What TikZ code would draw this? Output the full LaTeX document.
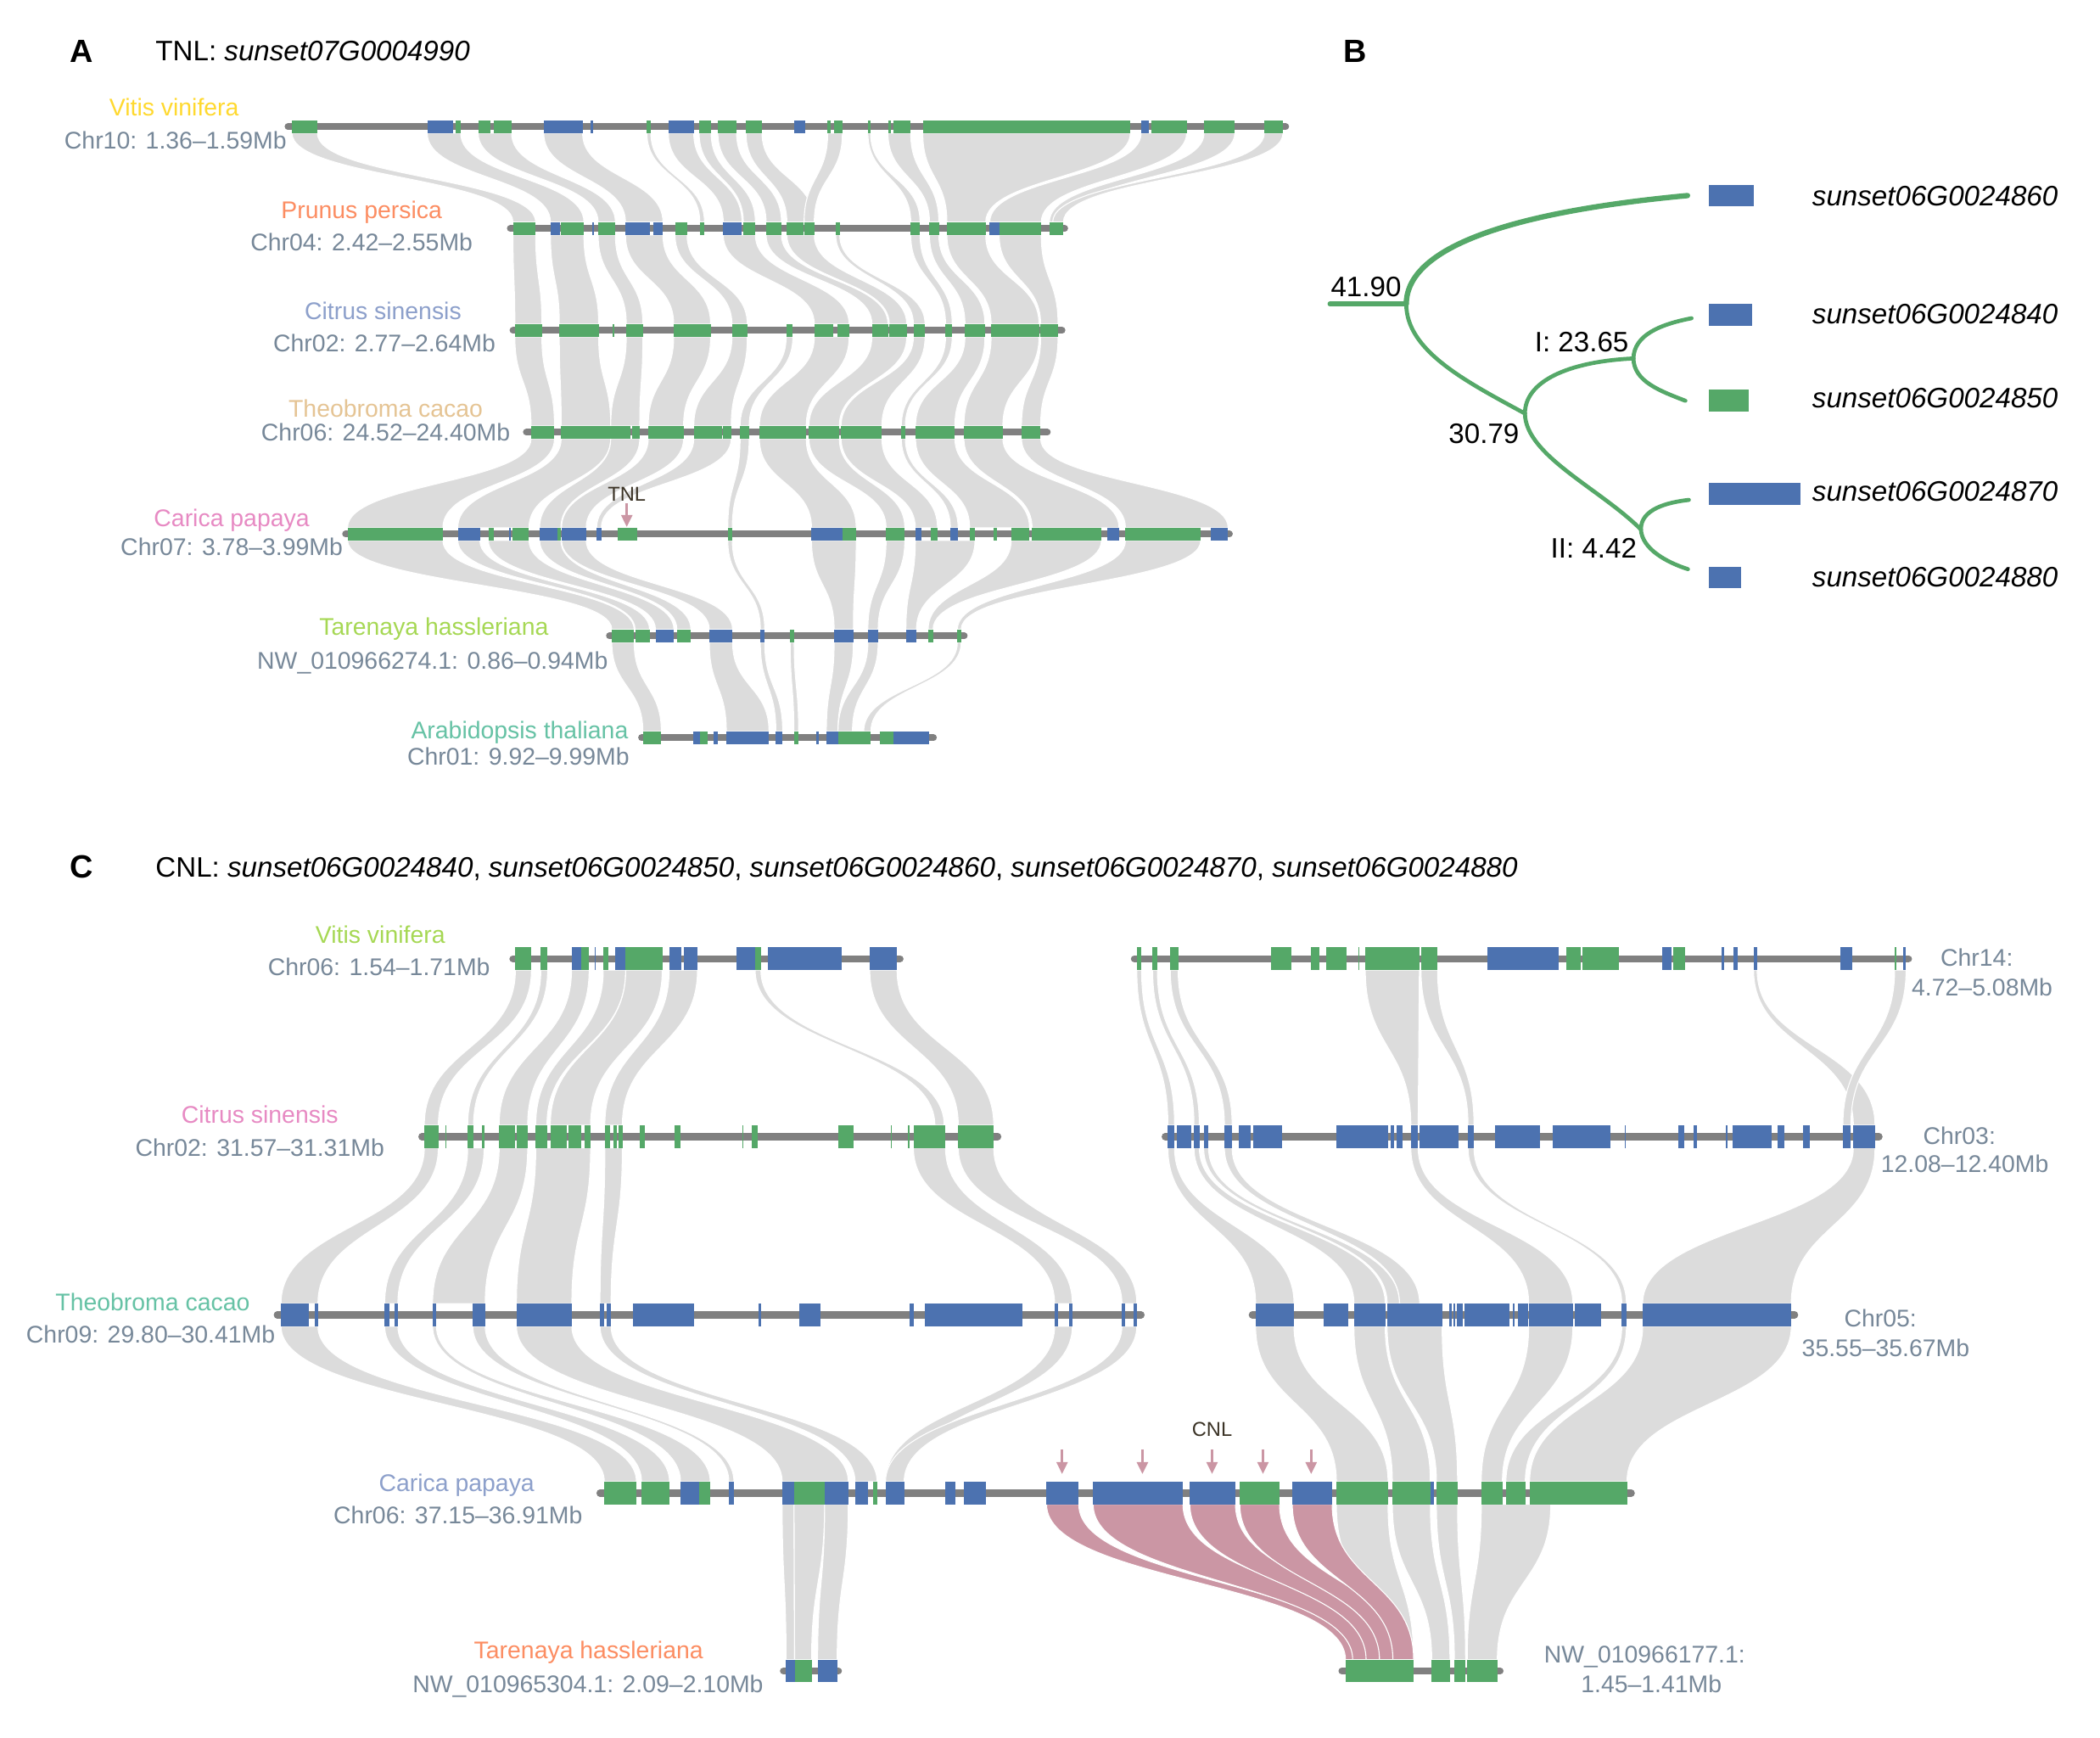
\documentclass[tikz,border=0pt]{standalone}
\usepackage{fontspec}
\setmainfont{Liberation Sans}
\usetikzlibrary{arrows.meta}
\definecolor{gg}{HTML}{55A868}
\definecolor{bb}{HTML}{4C72B0}
\definecolor{ribc}{HTML}{DCDCDC}
\definecolor{pinkc}{HTML}{CB96A4}
\definecolor{chrc}{HTML}{808080}
\definecolor{labc}{HTML}{778899}
\definecolor{tagc}{HTML}{3B3326}
\definecolor{sTeal}{HTML}{66C2A5}
\definecolor{sOrange}{HTML}{FC8D62}
\definecolor{sBlue}{HTML}{8DA0CB}
\definecolor{sPink}{HTML}{E78AC3}
\definecolor{sGreen}{HTML}{A6D854}
\definecolor{sYellow}{HTML}{FFD92F}
\definecolor{sTan}{HTML}{E5C494}
\tikzset{
 rib/.style={fill=ribc, draw=white, line width=0.7},
 pinkrib/.style={fill=pinkc, draw=white, line width=0.7},
 chrline/.style={draw=chrc, line width=5, line cap=round},
 sp/.style={font=\fontsize{18}{20}\selectfont, inner sep=0pt, anchor=base, yshift=-6.4pt},
 lab/.style={sp, text=labc},
 hdr/.style={font=\fontsize{21}{24}\selectfont, inner sep=0pt, anchor=base west, yshift=-7.5pt},
 panel/.style={font=\fontsize{24}{26}\selectfont\bfseries, inner sep=0pt, anchor=base, yshift=-8.6pt},
 treeline/.style={draw=gg, line width=3, line cap=round},
 tlab/.style={font=\fontsize{21}{24}\selectfont, inner sep=0pt, anchor=base, yshift=-7.5pt},
 glab/.style={font=\fontsize{21}{24}\selectfont\itshape, inner sep=0pt, anchor=base west, yshift=-7.5pt},
 tagtext/.style={font=\fontsize{15}{17}\selectfont, text=tagc, inner sep=0pt, anchor=base, yshift=-5.4pt},
 arr/.style={draw=pinkc, line width=2.2, -{Triangle[length=9pt,width=8pt]}}
}
\newcommand\ribs[4][rib]{\foreach \a/\b/\c/\d in {#4}{\fill[#1] (\a,#2) .. controls (\a,{(#2+#3)/2}) and (\c,{(#2+#3)/2}) .. (\c,#3) -- (\d,#3) .. controls (\d,{(#2+#3)/2}) and (\b,{(#2+#3)/2}) .. (\b,#2) -- cycle;}}
\newcommand\chrom[6][5]{\draw[chrline, line width=#1] (#4,#2) -- (#5,#2);
 \foreach \a/\b/\c in {#6}{\fill[\c] (\a,#2-#3) rectangle (\b,#2+#3);}}
\begin{document}
\begin{tikzpicture}[x=1pt,y=-1pt]
\useasboundingbox[fill=white] (0,0) rectangle (1568,1297);

% ================= Panel A ribbons =================
\ribs{99.35}{165.85}{218/237/383/400, 319/344/411/436, 357/382/446.6/459.5, 406/435/467/495, 483/486/522.5/526, 499/518/540/554, 522/531/555/564, 536/550/572/583.5, 557/569/587.5/608, 618/629/600.4/608, 648/650/680/687, 663/680/694/701, 689/844/707/736, 852/886/739/777.5, 899/922/783.5/794, 944/958/786/794}
\ribs{175.35}{241.95}{383/400/384.4/404.6, 411/436/417.6/447, 446.6/459.5/467.6/480, 467/495/503/530.6, 504/513/546.5/558, 540/564/608/634, 572/583.5/651/663, 587.5/608/664/677, 624/627/682/690.7, 680/687/706/711, 694/701/720.5/735.4, 707/736/740/775.8, 746/777.5/777/790}
\ribs{251.45}{317.95}{384.4/404.6/396.5/414, 417.6/447/419/456, 467.6/480/456/477.7, 503/530.6/484/510.4, 546.5/558/518/546, 587/592/552.6/559.4, 608/634/567/602, 651/677/604/626.7, 682/690.7/628/658.5, 706/711/673/676, 720.5/735.4/683.6/713, 740/775.8/719.7/748.8, 777/790/762.7/777}
\ribs{327.45}{393.95}{396.5/414/259.5/330.7, 419/456/341.8/395, 456/477.7/402.9/418.8, 484/510.4/419.3/437.7, 518/546/445.5/449, 552.6/559.4/543.4/546.8, 567/602/605.9/639.3, 604/626.7/661.6/675.6, 628/658.5/683.4/700, 673/676/709.6/715.4, 683.6/713/724/768.7, 719.7/748.8/770.6/835.5, 762.7/777/840.3/917}
\ribs{403.45}{469.95}{259.5/330.7/456.8/473.5, 341.8/358.3/474.2/485, 364.6/395/489.4/503.2, 402.9/418.8/505.4/515.9, 419.3/437.7/529.6/547, 543.4/546.8/567.7/571, 605.9/639.3/622.8/637.2, 661.6/675.6/648/655.7, 683.4/728/676.4/684.3, 755/822.4/693/696.7, 840.3/896.6/714.8/717.7}
\ribs{479.45}{546.05}{456.8/473.5/480/493.8, 529.6/547/542.3/574.2, 567.7/571/579.3/584.4, 590/593/592.7/596.3, 622.8/637.2/617/625.7, 648/655.7/625.7/636.5, 714.8/717.7/644.9/650.3}

% ================= Panel A chromosomes =================
\chrom{94.6}{4.75}{215}{960}{218/237/gg, 319/338/bb, 340/344/gg, 357/366/gg, 369/382/gg, 406/435/bb, 441/443/bb, 483/486/gg, 499/518/bb, 522/531/gg, 536/550/gg, 557/569/gg, 593/601/bb, 618/620/gg, 623/629/gg, 648/650/gg, 663/665/gg, 667/680/gg, 689/844/gg, 852/858/bb, 860/886/gg, 899/922/gg, 944/958/gg}
\chrom{170.6}{4.75}{381}{795}{383/400/gg, 411/418/bb, 419/436/gg, 442/443.5/bb, 446.6/459.5/gg, 467/485/bb, 488/495/bb, 504/513/gg, 522.5/526/gg, 540/554/bb, 555/564/gg, 572/583.5/gg, 587.5/600/gg, 600.4/608/gg, 624/627/gg, 680/687/gg, 694/701/gg, 707/736/gg, 739/746/bb, 746/777.5/gg, 783.5/794/gg}
\chrom{246.7}{4.75}{383}{793}{384.4/404.6/gg, 417.6/447/gg, 457.5/458.5/gg, 467.6/480/gg, 503/530.6/gg, 546.5/558/gg, 587/592/gg, 608/622.4/gg, 625/634/gg, 651/663/gg, 664/677/gg, 682/690.7/gg, 706/711/gg, 720.5/735.4/gg, 740/775.8/gg, 777/790/gg}
\chrom{322.7}{4.75}{393}{782}{396.5/414/gg, 419/432/gg, 432/456/gg, 456/471/gg, 472/477.7/gg, 484/510.4/gg, 518/539/gg, 539.7/546/gg, 552.6/559.4/gg, 567/596/gg, 596/602/gg, 604/626.7/gg, 628/658.5/gg, 673/676/gg, 683.6/713/gg, 719.7/748.8/gg, 762.7/777/gg}
\chrom{398.7}{4.75}{258}{918}{259.5/330.7/gg, 341.8/358.3/bb, 364.6/369/gg, 380/381.5/bb, 382.5/395/gg, 402.9/416.4/bb, 416.4/418.8/gg, 419.3/437.7/bb, 445.5/449/bb, 461.5/475.5/gg, 543.4/546.8/gg, 605.9/629/bb, 629/639.3/gg, 661.6/675.6/gg, 683.4/688.2/bb, 695/700/gg, 709.6/715.4/bb, 724/728/gg, 742/744.4/gg, 755/768.7/gg, 770.6/822.4/gg, 826.8/835.5/bb, 840.3/896.6/gg, 904.3/917/bb}
\chrom{474.7}{4.75}{455}{720}{456.8/473.5/gg, 474.2/485/gg, 489.4/503.2/bb, 505.4/515.9/gg, 529.6/547/bb, 567.7/571/bb, 590/593/gg, 622.8/637.2/bb, 648/655.7/bb, 676.4/684.3/bb, 693/696.7/gg, 714.8/717.7/gg}
\chrom{550.8}{4.75}{479}{697}{480/493.8/gg, 517.7/522.4/bb, 522.8/528.6/gg, 532.9/535.8/bb, 542.3/574.2/bb, 579.3/584.4/bb, 592.7/596.3/gg, 609.3/611.2/bb, 617/625.7/bb, 625.7/636.5/gg, 636.5/644.9/gg, 644.9/650.3/gg, 657.2/667/gg, 667/694/bb}

% Panel A texts
\node[panel] (pA) at (61,38) {A};
\node[hdr] (hA) at (116,38) {TNL: \textit{sunset07G0004990}};
\node[sp, text=sYellow] (a1s) at (130,80) {Vitis vinifera};
\node[lab] (a1c) at (131,105) {Chr10: 1.36–1.59Mb};
\node[sp, text=sOrange] (a2s) at (270,157) {Prunus persica};
\node[lab] (a2c) at (270,181) {Chr04: 2.42–2.55Mb};
\node[sp, text=sBlue] (a3s) at (286,232) {Citrus sinensis};
\node[lab] (a3c) at (287,256) {Chr02: 2.77–2.64Mb};
\node[sp, text=sTan] (a4s) at (288,305) {Theobroma cacao};
\node[lab] (a4c) at (288,323) {Chr06: 24.52–24.40Mb};
\node[sp, text=sPink] (a5s) at (173,387) {Carica papaya};
\node[lab] (a5c) at (173,408) {Chr07: 3.78–3.99Mb};
\node[sp, text=sGreen] (a6s) at (324,468) {Tarenaya hassleriana};
\node[lab] (a6c) at (323,493) {NW\_010966274.1: 0.86–0.94Mb};
\node[sp, text=sTeal] (a7s) at (388,545) {Arabidopsis thaliana};
\node[lab] (a7c) at (387,565) {Chr01: 9.92–9.99Mb};
\node[tagtext] (tnl) at (468,368.5) {TNL};
\coordinate (ta1) at (468,376); \coordinate (ta2) at (468,393.5);
\draw[arr] (ta1) -- (ta2);

% ================= Panel B =================
\node[panel] (pB) at (1012,38) {B};
\coordinate (root) at (993,227);
\coordinate (n1) at (1050,227);
\coordinate (n2) at (1138.6,308.7);
\coordinate (n3) at (1219.6,267.6);
\coordinate (n4) at (1225.2,395.3);
\coordinate (l60) at (1260,146);
\coordinate (l40) at (1263,237.6);
\coordinate (l50) at (1258.4,299.2);
\coordinate (l70) at (1261,373.2);
\coordinate (l80) at (1260.3,424.9);
\draw[treeline, line width=3.6] (root) -- (n1);
\draw[treeline, line width=4] (n1) .. controls (1050,190) and (1110,160) .. (l60);
\draw[treeline] (n1) .. controls (1050,262) and (1095,285) .. (n2);
\draw[treeline] (n2) .. controls (1138.6,285) and (1170,270) .. (n3);
\draw[treeline] (n3) .. controls (1220,250) and (1240,242) .. (l40);
\draw[treeline] (n3) .. controls (1220,285) and (1240,292) .. (l50);
\draw[treeline] (n2) .. controls (1139,340) and (1195,365) .. (n4);
\draw[treeline] (n4) .. controls (1225,380) and (1245,375) .. (l70);
\draw[treeline] (n4) .. controls (1226,410) and (1245,420) .. (l80);
\node[tlab] (t1) at (1020,213.7) {41.90};
\node[tlab] (t2) at (1181,255) {I: 23.65};
\node[tlab] (t3) at (1108,323.5) {30.79};
\node[tlab] (t4) at (1190,409) {II: 4.42};
\fill[bb] (1276,138) rectangle (1309.5,154);
\fill[bb] (1276,227) rectangle (1308,243);
\fill[gg] (1276,290.5) rectangle (1306,307);
\fill[bb] (1276,360.5) rectangle (1344.5,376.8);
\fill[bb] (1276,423) rectangle (1300,439);
\node[glab] (g60) at (1353,146) {sunset06G0024860};
\node[glab] (g40) at (1353,234.5) {sunset06G0024840};
\node[glab] (g50) at (1353,297) {sunset06G0024850};
\node[glab] (g70) at (1353,366.5) {sunset06G0024870};
\node[glab] (g80) at (1353,430.5) {sunset06G0024880};

% ================= Panel C ribbons =================
\ribs{724.15}{840.05}{384.8/396.8/316.8/327.3, 403.8/408.9/349.2/353.6, 426.7/439.9/372.7/394, 450.4/467.2/400/408.4, 467.2/494.5/410.9/441, 499.6/520.8/451.6/464.7, 563.8/568.1/698/705, 649.4/669.8/715.5/742}
\ribs{724.15}{840.05}{848.8/852.4/872/877, 860.6/864.2/891.5/895.5, 873.8/879.7/914.2/920, 1019.4/1059.8/1053.4/1058.9, 1061/1073.4/1096.1/1100.6, 1309.3/1312/1383.8/1400, 1414.6/1423.2/1376/1382}
\ribs{856.95}{973.15}{316.8/327.3/209.8/237.4, 349.2/361.5/287.2/297.1, 372.7/394/323/362.3, 400/441/385.6/427, 451.6/464.7/448/456.3, 682/706/787.4/800.7, 715.5/742/837.7/848.8}
\ribs{856.95}{973.15}{872/877/937.5/966.2, 891.5/895.5/1010.9/1034.3, 898.7/902.4/1035.7/1045, 914.2/920/1045/1060, 1053.4/1058.9/1141.4/1174.4, 1096.1/1100.6/1210.9/1214.4, 1383.8/1400/1226.5/1337.5}
\ribs{990.05}{1106.15}{209.8/237.4/451.2/475.2, 287.2/297.1/479/499.9, 323/325.9/508.1/530.3, 353/362.3/544.2/548, 385.6/427/584/633.4, 448/456.3/638.4/654.9, 787.4/800.7/661.2/675.1, 837.7/848.8/661.2/675.1}
\ribs{990.05}{1106.15}{937.5/966.2/997.8/1036.4, 1010.9/1034.3/1039.6/1068, 1035.7/1076.8/1072.5/1088.3, 1141.4/1174.4/1106/1121.8, 1210.9/1214.4/1124.4/1138.9, 1226.5/1337.5/1142.1/1214.8}
\ribs{1123.05}{1239.05}{584/592.9/586.9/593.3, 592.9/615.7/593.3/606, 615.7/633.4/610.5/625.1, 997.8/1036.4/1030/1055.5, 1039.6/1068/1069/1082.6, 1072.5/1088.3/1085.9/1094.3, 1106/1157.9/1095.5/1118}
\ribs[pinkrib]{1123.05}{1239.05}{781.4/805.5/1004.6/1015, 816.2/883.3/1010/1030, 888.4/922.5/1020/1040, 925.7/955.4/1030/1048, 964.9/994.7/1040/1055.5}

% ================= Panel C chromosomes =================
\chrom[5.3]{715.7}{8.45}{383}{672}{384.8/396.8/gg, 403.8/408.9/gg, 426.7/433.7/bb, 433.7/439.9/gg, 443.9/445/bb, 450.4/454.4/gg, 459.2/467.2/bb, 467.2/494.5/gg, 499.6/509/bb, 510.5/520.8/bb, 549.9/563.8/bb, 563.8/568.1/gg, 573.6/628.6/bb, 649.4/669.8/bb}
\chrom[5.3]{715.7}{8.45}{847}{1425}{848.8/852.4/gg, 860.6/864.2/gg, 873.8/879.7/gg, 949/964/gg, 979/985.4/gg, 990/1005.3/gg, 1014/1014.9/gg, 1019.4/1059.8/gg, 1061/1073.4/gg, 1110.6/1163.7/bb, 1169.6/1180/gg, 1181.8/1208.6/gg, 1240.8/1248/bb, 1249.4/1258/gg, 1285.7/1287.6/bb, 1294.4/1297.5/bb, 1309.3/1312/bb, 1374.2/1382.8/bb, 1414.6/1416/gg, 1421/1423.2/bb}
\chrom[5.3]{848.5}{8.45}{315}{745}{316.8/327.3/gg, 332.3/333/gg, 349.2/353.6/gg, 360/361.5/gg, 372.7/384.6/gg, 385.7/394/gg, 400/408.4/gg, 410.9/423.5/gg, 424.2/434/gg, 436.3/441/gg, 451.6/455.6/gg, 457.8/460.7/gg, 462/464.7/gg, 477.6/481.5/gg, 503.5/507.9/gg, 554.4/555/gg, 561.6/565.5/gg, 626/637.6/gg, 665/665.8/gg, 677.6/679/gg, 682/706/gg, 715.5/742/gg}
\chrom[5.3]{848.5}{8.45}{870}{1403}{872/877/bb, 878.8/889.6/bb, 891.5/895.5/bb, 898.7/902.4/bb, 914.2/920/bb, 925/934.1/bb, 935.5/957.3/bb, 998.1/1036.7/bb, 1038.5/1041.2/bb, 1042.6/1047.1/bb, 1053.4/1058.9/bb, 1060.2/1089.3/bb, 1096.1/1100.6/bb, 1116.5/1150.1/bb, 1159.6/1202.3/bb, 1213.2/1214/bb, 1253.1/1257.6/bb, 1264.4/1267.1/bb, 1288.5/1289.8/bb, 1293.5/1322.5/bb, 1327.5/1332/bb, 1346/1351/bb, 1376/1382/bb, 1383.8/1400/bb}
\chrom[5.3]{981.6}{8.45}{207}{852}{209.8/230.8/bb, 235.2/237.4/bb, 287.2/290.5/bb, 294.3/297.1/bb, 323/325.9/bb, 353/362.3/bb, 385.6/427/bb, 448/450.8/bb, 453/456.3/bb, 472.3/518.2/bb, 566.3/568/bb, 596.7/612.7/bb, 679/682.4/bb, 690.7/763.1/bb, 787.4/790.2/bb, 798.5/800.7/bb, 837.7/840/bb, 846.6/848.8/bb}
\chrom[5.3]{981.6}{8.45}{935}{1340}{937.5/966.2/bb, 988.2/1006.6/bb, 1010.9/1034.3/bb, 1035.7/1076.8/bb, 1081.8/1084/bb, 1085.4/1086.4/bb, 1087.5/1092.4/bb, 1093.5/1127.2/bb, 1129.7/1131.1/bb, 1133.6/1140.7/bb, 1141.4/1174.4/bb, 1176.1/1195.3/bb, 1210.9/1214.4/bb, 1226.5/1337.5/bb}
\chrom[5.3]{1114.6}{8.45}{448}{1218}{451.2/475.2/gg, 479/499.9/gg, 508.1/522/bb, 522/530.3/gg, 544.2/548/bb, 584/592.9/bb, 592.9/615.7/gg, 615.7/633.4/bb, 638.4/647.9/bb, 651.7/654.9/gg, 661.2/675.1/bb, 705.5/713.1/bb, 719.4/735.9/bb, 781.4/805.5/bb, 816.2/883.3/bb, 888.4/922.5/bb, 925.7/955.4/gg, 964.9/994.7/bb, 997.8/1036.4/gg, 1039.6/1068/gg, 1068/1070.6/bb, 1072.5/1088.3/gg, 1106/1121.8/gg, 1124.4/1138.9/gg, 1142.1/1157.9/gg, 1157.9/1214.8/gg}
\chrom[5.3]{1247.5}{8.45}{585}{626}{586.9/593.3/bb, 593.3/606/gg, 610.5/625.1/bb}
\chrom[5.3]{1247.5}{8.45}{1002}{1120}{1004.6/1055.5/gg, 1069/1082.6/gg, 1085.9/1094.3/gg, 1095.5/1118/gg}

% Panel C texts
\node[panel] (pC) at (61,647) {C};
\node[hdr] (hC) at (116,647) {CNL: \textit{sunset06G0024840}, \textit{sunset06G0024850}, \textit{sunset06G0024860}, \textit{sunset06G0024870}, \textit{sunset06G0024880}};
\node[sp, text=sGreen] (c1s) at (284,698) {Vitis vinifera};
\node[lab] (c1c) at (283,722) {Chr06: 1.54–1.71Mb};
\node[sp, text=sPink] (c2s) at (194,832) {Citrus sinensis};
\node[lab] (c2c) at (194,857) {Chr02: 31.57–31.31Mb};
\node[sp, text=sTeal] (c3s) at (114,972) {Theobroma cacao};
\node[lab] (c3c) at (112.5,996) {Chr09: 29.80–30.41Mb};
\node[sp, text=sBlue] (c4s) at (341,1107) {Carica papaya};
\node[lab] (c4c) at (342,1131) {Chr06: 37.15–36.91Mb};
\node[sp, text=sOrange] (c5s) at (439.5,1232) {Tarenaya hassleriana};
\node[lab] (c5c) at (439,1257) {NW\_010965304.1: 2.09–2.10Mb};
\node[lab] (r1a) at (1476,714.7) {Chr14:};
\node[lab] (r1b) at (1480,737) {4.72–5.08Mb};
\node[lab] (r2a) at (1463,847.7) {Chr03:};
\node[lab] (r2b) at (1467,869) {12.08–12.40Mb};
\node[lab] (r3a) at (1404,984) {Chr05:};
\node[lab] (r3b) at (1408,1006.3) {35.55–35.67Mb};
\node[lab] (r4a) at (1228,1234.8) {NW\_010966177.1:};
\node[lab] (r4b) at (1233,1257) {1.45–1.41Mb};
\node[tagtext] (cnl) at (905,1066.7) {CNL};
\foreach \xx [count=\i] in {793,853,905,943,979}{
  \coordinate (ca\i) at (\xx,1082); \coordinate (cb\i) at (\xx,1100.5);
  \draw[arr] (ca\i) -- (cb\i);
}
\end{tikzpicture}
\end{document}
